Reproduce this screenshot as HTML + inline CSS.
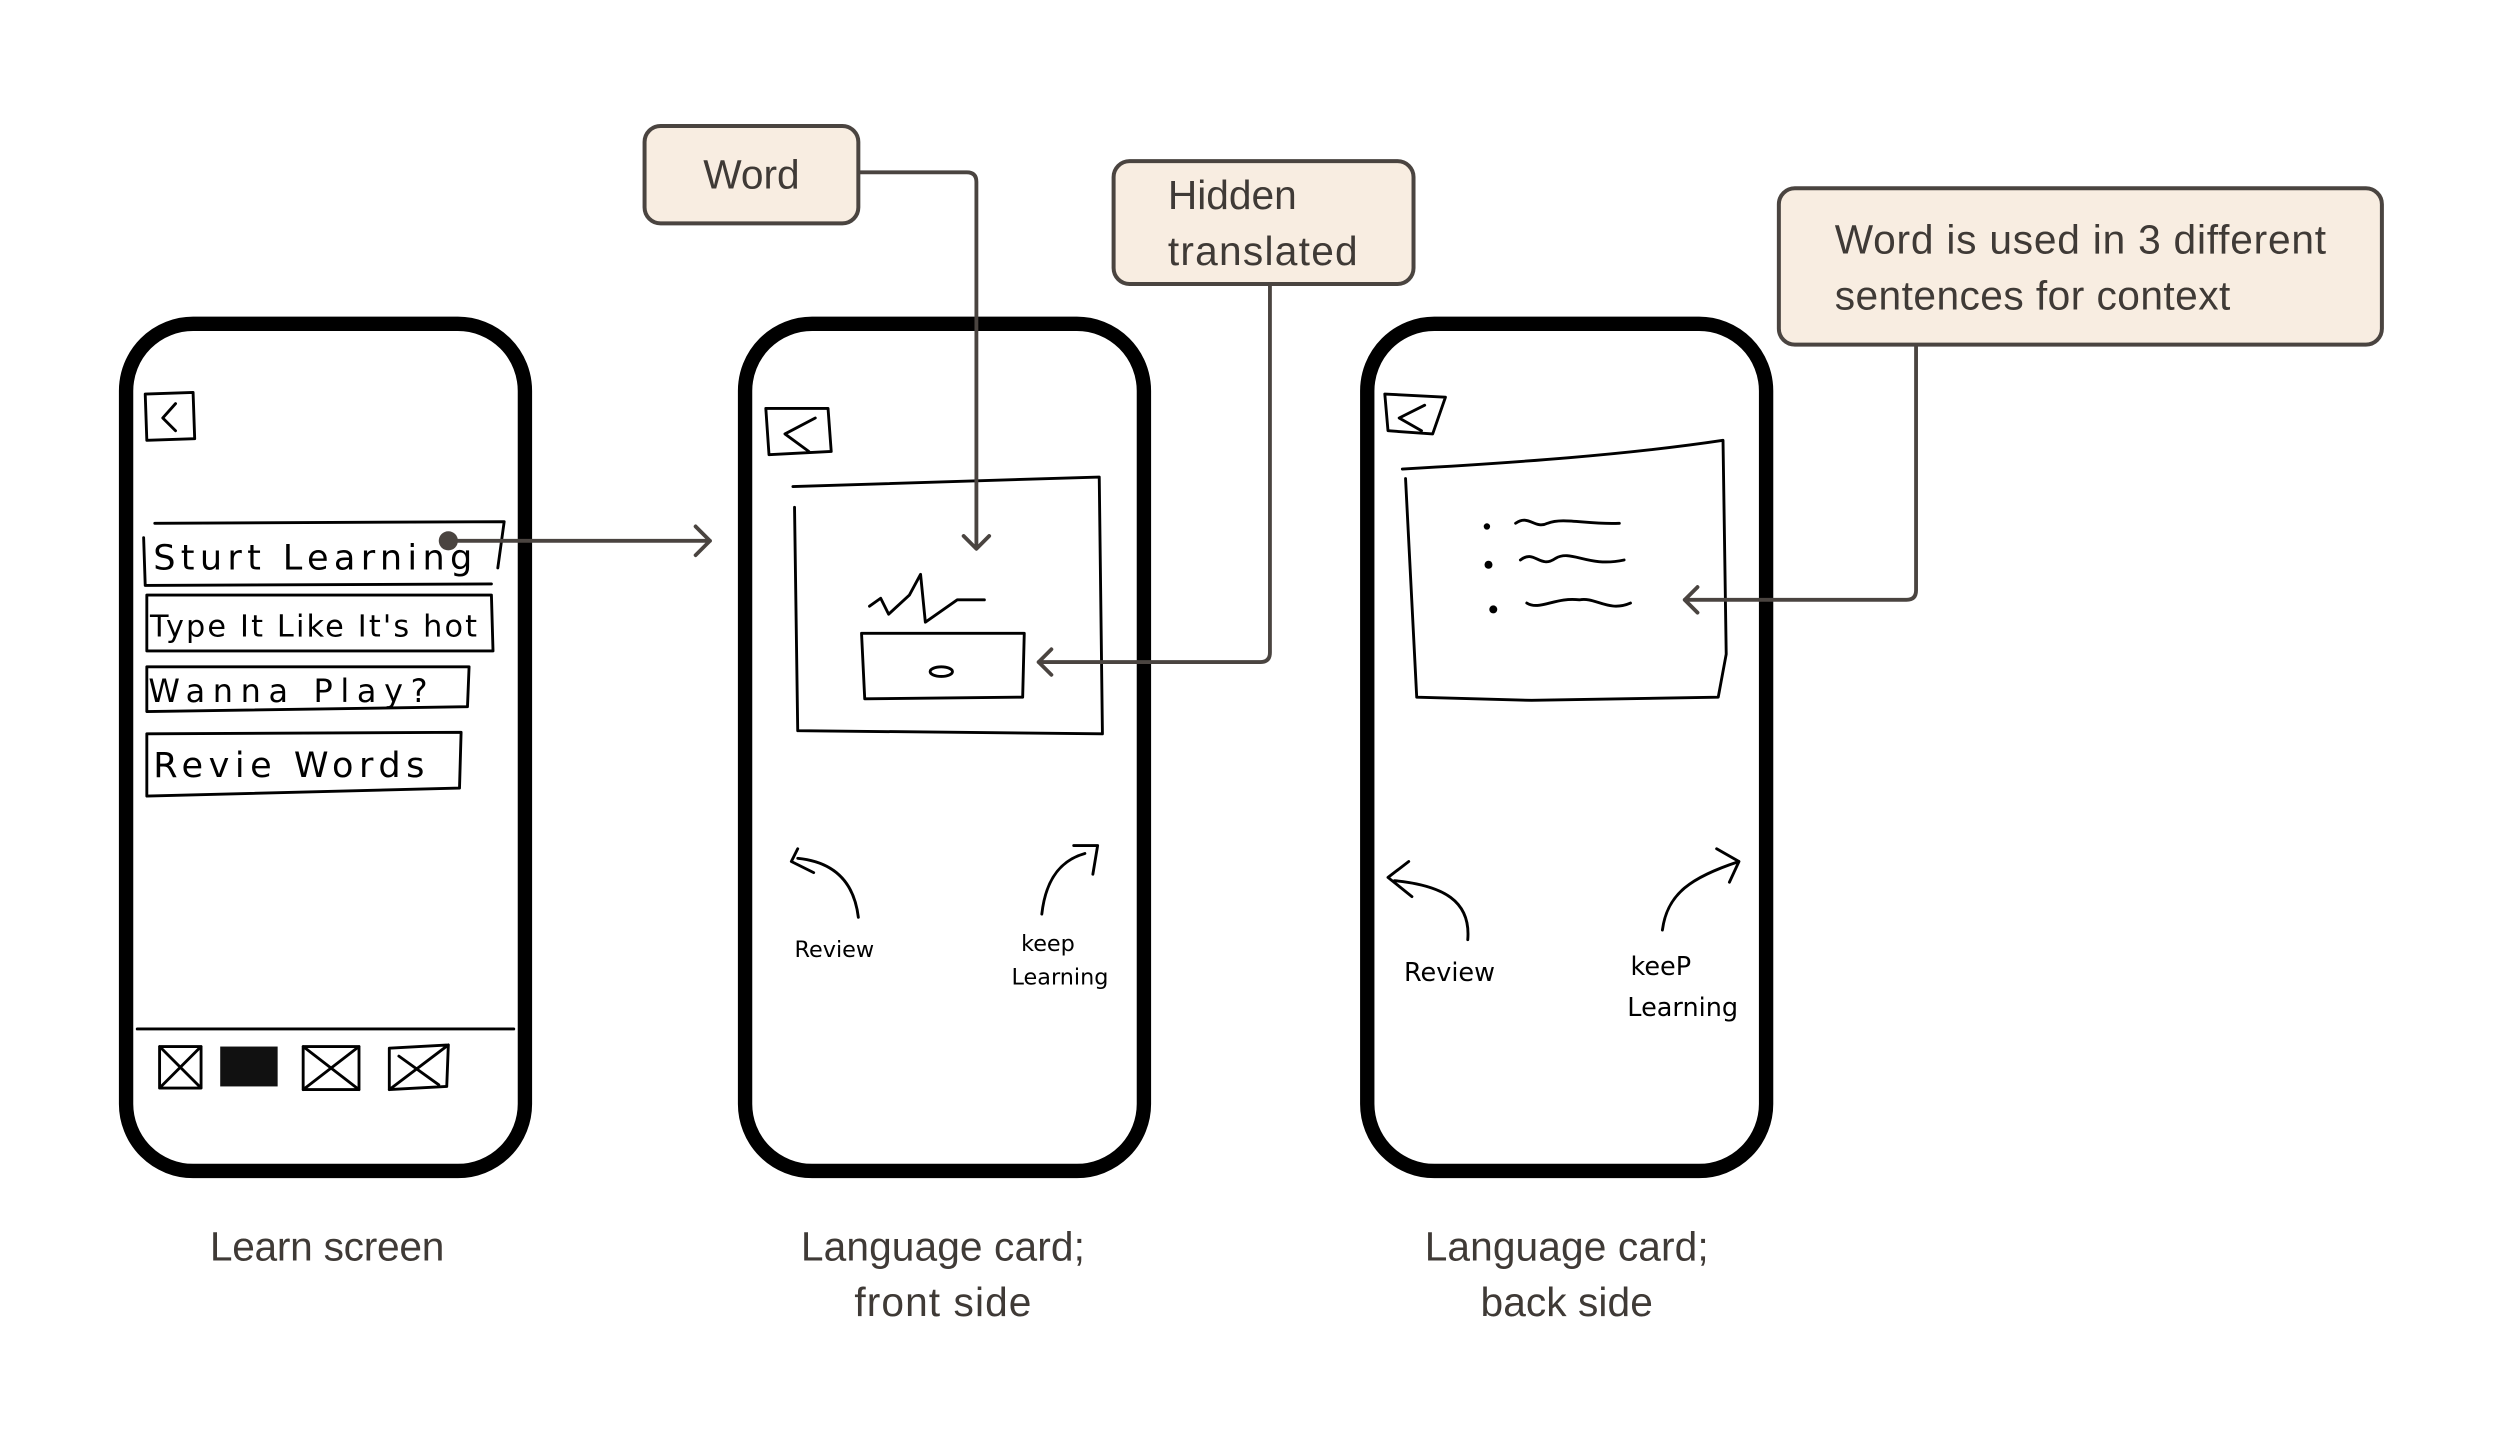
<!DOCTYPE html>
<html><head><meta charset="utf-8"><style>
html,body{margin:0;padding:0;background:#fff;}
svg{display:block;}
.lbl{font-family:"Liberation Sans",sans-serif;font-size:25.5px;fill:#3f3a36;}
.hw{font-family:"DejaVu Sans",sans-serif;fill:#000;}
.s{fill:none;stroke:#000;stroke-width:1.8;stroke-linecap:round;stroke-linejoin:round;}
.c{fill:none;stroke:#4a4440;stroke-width:2.4;stroke-linecap:round;stroke-linejoin:round;}
.box{fill:#f8ede1;stroke:#4a4440;stroke-width:2.5;}
</style></head><body>
<svg width="2500" height="1439" viewBox="0 0 1567 902" xmlns="http://www.w3.org/2000/svg">
<rect x="0" y="0" width="1567" height="902" fill="#fff"/>
<!-- phones -->
<rect x="79" y="203" width="250" height="531" rx="42" fill="#fff" stroke="#000" stroke-width="9"/>
<rect x="467" y="203" width="250" height="531" rx="42" fill="#fff" stroke="#000" stroke-width="9"/>
<rect x="857" y="203" width="250" height="531" rx="42" fill="#fff" stroke="#000" stroke-width="9"/>

<!-- phone 1 content -->
<path class="s" d="M91 247 L121 246 L122 275 L92 276 Z M110 253 L102 262 L110 270"/>
<path class="s" d="M97 328 L316 327 L312 356 M90 337 L91 367 L308 366"/>
<text class="hw" x="96" y="357" font-size="22" textLength="200">Sturt Learning</text>
<path class="s" d="M92 373 L308 373 L309 408 L92 408 Z"/>
<text class="hw" x="94" y="399" font-size="19" textLength="205">Type It Like It's hot</text>
<path class="s" d="M92 418 L294 418 L293 443 L92 446 Z"/>
<text class="hw" x="93" y="440" font-size="20" textLength="175">Wanna  Play?</text>
<path class="s" d="M92 460 L289 459 L288 494 L92 499 Z"/>
<text class="hw" x="96" y="487" font-size="22" textLength="170">Revie Words</text>
<path class="s" d="M86 645 L322 645"/>
<path class="s" d="M100 656 L126 656 L126 682 L100 682 Z M100 656 L126 682 M126 656 L100 682"/>
<rect x="138" y="656" width="36" height="25" fill="#111"/>
<path class="s" d="M190 656 L225 656 L225 683 L190 683 Z M190 656 L225 683 M225 656 L190 683"/>
<path class="s" d="M244 657 L281 655 L280 681 L244 683 Z M244 683 L281 655 M250 662 L275 680"/>
<circle cx="281" cy="339" r="6" fill="#4a4440"/>
<path class="c" d="M281 339 L445 339 M436 330 L445 339 L436 348"/>

<!-- phone 2 content -->
<path class="s" d="M480 256 L519 256 L521 283 L482 285 Z M511 262 L492 272 L507 283"/>
<path class="s" d="M497 305 L689 299 L691 460 L500 458 L498 318"/>
<path class="s" d="M545 380 L552 375 L557 385 L570 373 L577 360 L580 390 L600 376 L617 376"/>
<path class="s" d="M540 397 L642 397 L641 437 L542 438 Z"/>
<ellipse class="s" cx="590" cy="421" rx="7" ry="3"/>
<path class="s" d="M538 575 C535 550 520 540 500 538 M500 532 L496 540 L510 547"/>
<path class="s" d="M653 573 C655 555 662 540 680 535 M673 530 L688 530 L685 548"/>
<text class="hw" x="498" y="600" font-size="14">Review</text>
<text class="hw" x="640" y="596" font-size="14">keep</text>
<text class="hw" x="634" y="617" font-size="14">Learning</text>
<path class="c" d="M538 108 L606 108 Q612 108 612 114 L612 343 M604 336 L612 344 L620 336"/>
<path class="c" d="M796 178 L796 409 Q796 415 790 415 L651 415 M659 407 L651 415 L659 423"/>

<!-- phone 3 content -->
<path class="s" d="M868 247 L906 249 L898 272 L870 270 Z M893 254 L877 262 L891 270"/>
<path class="s" d="M879 294 C950 290 1020 285 1080 276 L1082 410 L1077 437 L960 439 L888 437 L881 300"/>
<circle cx="932" cy="330" r="2" fill="#000"/>
<circle cx="933" cy="354" r="2.5" fill="#000"/>
<circle cx="936" cy="382" r="2.5" fill="#000"/>
<path class="s" d="M950 328 C958 322 962 332 970 328 C980 324 995 329 1015 328"/>
<path class="s" d="M953 351 C962 344 965 357 975 350 C985 344 995 356 1018 351"/>
<path class="s" d="M957 378 C965 383 975 374 990 376 C1000 374 1008 384 1022 378"/>
<path class="s" d="M920 589 C922 565 905 555 874 552 M883 540 L870 550 L885 562"/>
<path class="s" d="M1042 583 C1045 560 1060 550 1090 540 M1076 532 L1090 540 L1084 553"/>
<text class="hw" x="880" y="615" font-size="16">Review</text>
<text class="hw" x="1022" y="611" font-size="16">keeP</text>
<text class="hw" x="1020" y="637" font-size="16">Learning</text>
<path class="c" d="M1201 216 L1201 370 Q1201 376 1195 376 L1056 376 M1064 368 L1056 376 L1064 384"/>

<!-- callout boxes -->
<rect class="box" x="404" y="79" width="134" height="61" rx="10"/>
<text class="lbl" x="471" y="118" text-anchor="middle">Word</text>
<rect class="box" x="698" y="101" width="188" height="77" rx="10"/>
<text class="lbl" x="732" y="131">Hidden</text>
<text class="lbl" x="732" y="166" textLength="119">translated</text>
<rect class="box" x="1115" y="118" width="378" height="98" rx="10"/>
<text class="lbl" x="1150" y="159" textLength="308">Word is used in 3 different</text>
<text class="lbl" x="1150" y="194" textLength="248">sentences for context</text>

<!-- captions -->
<text class="lbl" x="205" y="790" text-anchor="middle" textLength="147">Learn screen</text>
<text class="lbl" x="591" y="790" text-anchor="middle" textLength="178">Language card;</text>
<text class="lbl" x="591" y="825" text-anchor="middle" textLength="111">front side</text>
<text class="lbl" x="982" y="790" text-anchor="middle" textLength="178">Language card;</text>
<text class="lbl" x="982" y="825" text-anchor="middle" textLength="108">back side</text>
</svg>
</body></html>
